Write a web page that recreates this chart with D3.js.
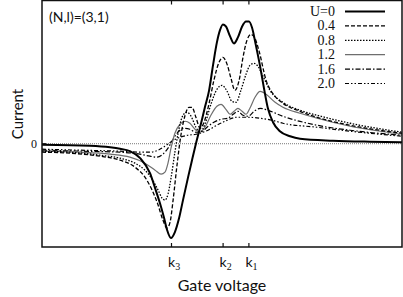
<!DOCTYPE html>
<html>
<head>
<meta charset="utf-8">
<script src="https://cdn.jsdelivr.net/npm/d3@7"></script>
<style>
  body { margin: 0; background: #fff; }
  svg { display: block; }
</style>
</head>
<body>
<svg id="chart" width="403" height="297"></svg>
<script>
// gate voltage (arb. units) and current (arb. units)
const uLabels = ["U=0", "0.4", "0.8", "1.2", "1.6", "2.0"];

const gateU00 = [0, 1.6, 2.27, 2.6, 2.93, 3.27, 3.6, 3.77, 3.93, 4.07, 4.17, 4.3, 4.43, 4.57, 4.7, 4.87, 5.0, 5.13, 5.27, 5.43, 5.57, 5.7, 5.83, 5.93, 6.03, 6.13, 6.27, 6.4, 6.53, 6.67, 6.8, 6.9, 7.0, 7.13, 7.27, 7.4, 7.53, 7.7, 7.93, 8.27, 8.6, 9.7, 10.93, 12];
const currU00 = [-0.01, -0.02, -0.035, -0.05, -0.075, -0.145, -0.295, -0.445, -0.595, -0.745, -0.865, -0.945, -0.885, -0.745, -0.565, -0.335, -0.165, 0, 0.165, 0.365, 0.535, 0.785, 1.015, 1.135, 1.195, 1.175, 1.075, 1.005, 1.065, 1.175, 1.225, 1.225, 1.165, 0.985, 0.775, 0.555, 0.355, 0.215, 0.125, 0.075, 0.05, 0.03, 0.02, 0.015];

const gateU04 = [0, 0.93, 1.93, 2.6, 3.1, 3.43, 3.67, 3.87, 4.03, 4.17, 4.27, 4.37, 4.5, 4.63, 4.77, 4.9, 5.0, 5.13, 5.27, 5.4, 5.57, 5.73, 5.9, 6.03, 6.17, 6.3, 6.43, 6.57, 6.7, 6.83, 6.97, 7.1, 7.23, 7.47, 7.77, 8.03, 8.6, 9.17, 10.27, 12];
const currU04 = [-0.085, -0.095, -0.125, -0.165, -0.235, -0.335, -0.465, -0.615, -0.765, -0.845, -0.785, -0.565, -0.215, 0.085, 0.285, 0.365, 0.365, 0.265, 0.155, 0.215, 0.405, 0.635, 0.815, 0.865, 0.795, 0.655, 0.535, 0.635, 0.865, 1.035, 1.095, 1.055, 0.935, 0.635, 0.475, 0.405, 0.325, 0.265, 0.185, 0.105];

const gateU08 = [0, 0.93, 1.93, 2.6, 3.1, 3.43, 3.67, 3.87, 4.0, 4.1, 4.2, 4.3, 4.43, 4.57, 4.7, 4.83, 4.97, 5.13, 5.27, 5.43, 5.63, 5.83, 6.0, 6.17, 6.33, 6.47, 6.63, 6.8, 6.93, 7.07, 7.2, 7.37, 7.6, 8.03, 8.6, 9.17, 10.27, 12];
const currU08 = [-0.075, -0.085, -0.115, -0.145, -0.195, -0.265, -0.355, -0.465, -0.545, -0.565, -0.505, -0.345, -0.085, 0.155, 0.285, 0.315, 0.275, 0.165, 0.115, 0.195, 0.395, 0.545, 0.585, 0.525, 0.425, 0.415, 0.535, 0.695, 0.785, 0.805, 0.775, 0.675, 0.535, 0.415, 0.335, 0.285, 0.205, 0.115];

const gateU12 = [0, 1.27, 2.27, 2.93, 3.43, 3.77, 3.97, 4.1, 4.2, 4.3, 4.43, 4.6, 4.77, 4.93, 5.1, 5.27, 5.43, 5.63, 5.83, 5.97, 6.13, 6.27, 6.4, 6.53, 6.67, 6.8, 6.93, 7.1, 7.27, 7.47, 7.77, 8.03, 8.6, 9.17, 10.27, 12];
const currU12 = [-0.075, -0.085, -0.105, -0.135, -0.195, -0.265, -0.305, -0.285, -0.195, -0.045, 0.105, 0.195, 0.225, 0.205, 0.145, 0.115, 0.165, 0.285, 0.375, 0.395, 0.345, 0.295, 0.325, 0.355, 0.325, 0.295, 0.355, 0.465, 0.525, 0.495, 0.415, 0.365, 0.305, 0.255, 0.175, 0.095];

const gateU16 = [0, 1.27, 2.6, 3.27, 3.6, 3.83, 4.03, 4.2, 4.37, 4.53, 4.73, 4.93, 5.13, 5.3, 5.5, 5.73, 5.97, 6.2, 6.37, 6.53, 6.7, 6.87, 7.07, 7.27, 7.53, 8.03, 9.17, 10.27, 12];
const currU16 = [-0.065, -0.075, -0.085, -0.105, -0.125, -0.135, -0.105, -0.045, 0.045, 0.115, 0.155, 0.145, 0.115, 0.115, 0.165, 0.215, 0.245, 0.255, 0.295, 0.325, 0.285, 0.275, 0.325, 0.355, 0.335, 0.275, 0.185, 0.135, 0.085];

const gateU20 = [0, 1.27, 2.6, 3.27, 3.6, 3.87, 4.1, 4.33, 4.6, 4.87, 5.13, 5.37, 5.6, 5.83, 6.1, 6.5, 6.87, 7.27, 7.67, 8.03, 9.17, 10.27, 12];
const currU20 = [-0.055, -0.065, -0.075, -0.085, -0.085, -0.065, -0.025, 0.025, 0.065, 0.085, 0.095, 0.115, 0.145, 0.185, 0.225, 0.265, 0.265, 0.255, 0.235, 0.205, 0.165, 0.125, 0.075];

// resonance positions on the gate-voltage axis
const tickNames = ["3", "2", "1"];
const tickGates = [4.3, 6.02, 6.88];

const series = [
  { label: uLabels[0], gate: gateU00, curr: currU00, color: "#000", width: 2, dash: null },
  { label: uLabels[1], gate: gateU04, curr: currU04, color: "#000", width: 1.3, dash: "4,2" },
  { label: uLabels[2], gate: gateU08, curr: currU08, color: "#000", width: 1.3, dash: "1.5,1.5" },
  { label: uLabels[3], gate: gateU12, curr: currU12, color: "#6e6e6e", width: 1.2, dash: null },
  { label: uLabels[4], gate: gateU16, curr: currU16, color: "#000", width: 1.2, dash: "5,2,1.5,2" },
  { label: uLabels[5], gate: gateU20, curr: currU20, color: "#000", width: 1.2, dash: "4,2,1.5,2,1.5,2" },
];

const svg = d3.select("#chart");
const plotLeft = 42, plotRight = 402, plotTop = 0.5, plotBottom = 247;

const x = d3.scaleLinear().domain([0, 12]).range([plotLeft, plotRight]);
const y = d3.scaleLinear().domain([-1.035, 1.435]).range([plotBottom, plotTop]);

// zero line
svg.append("line")
  .attr("x1", plotLeft).attr("x2", plotRight)
  .attr("y1", y(0)).attr("y2", y(0))
  .attr("stroke", "#555")
  .attr("stroke-width", 0.8)
  .attr("stroke-dasharray", "1,1");

// curves
const line = d3.line()
  .x(d => x(d[0]))
  .y(d => y(d[1]))
  .curve(d3.curveMonotoneX);

series.slice().reverse().forEach(s => {
  svg.append("path")
    .datum(d3.zip(s.gate, s.curr))
    .attr("d", line)
    .attr("fill", "none")
    .attr("stroke", s.color)
    .attr("stroke-width", s.width)
    .attr("stroke-dasharray", s.dash);
});

// frame
svg.append("rect")
  .attr("x", plotLeft).attr("y", plotTop)
  .attr("width", plotRight - plotLeft).attr("height", plotBottom - plotTop)
  .attr("fill", "none")
  .attr("stroke", "#111")
  .attr("stroke-width", 1.5);

// bottom and top ticks, labels k_n
const axisB = d3.axisBottom(x).tickValues(tickGates).tickSize(-4).tickFormat("");
const axisT = d3.axisTop(x).tickValues(tickGates).tickSize(-4).tickFormat("");
svg.append("g").attr("transform", `translate(0,${plotBottom})`).call(axisB)
  .call(g => g.select(".domain").remove())
  .selectAll("line").attr("stroke", "#111").attr("stroke-width", 1.2);
svg.append("g").attr("transform", `translate(0,${plotTop})`).call(axisT)
  .call(g => g.select(".domain").remove())
  .selectAll("line").attr("stroke", "#111").attr("stroke-width", 1.2);

tickGates.forEach((g, i) => {
  const t = svg.append("text")
    .attr("x", x(g) - 3)
    .attr("y", 267)
    .style("font-family", "Lato, 'Open Sans', sans-serif")
    .style("font-size", "14px")
    .attr("fill", "#111");
  t.append("tspan").text("k");
  t.append("tspan")
    .attr("dy", 3)
    .style("font-family", "'Liberation Serif', serif")
    .style("font-size", "10px")
    .text(tickNames[i]);
});

// zero label and tick
svg.append("line")
  .attr("x1", plotLeft).attr("x2", plotLeft + 4)
  .attr("y1", y(0)).attr("y2", y(0))
  .attr("stroke", "#111").attr("stroke-width", 1.2);
svg.append("text")
  .attr("x", 37).attr("y", y(0) + 4)
  .attr("text-anchor", "end")
  .style("font-family", "'Liberation Serif', serif")
  .style("font-size", "12px")
  .style("fill", "#111")
  .text("0");

// axis titles
svg.append("text")
  .attr("x", 222).attr("y", 291)
  .attr("text-anchor", "middle")
  .style("font-family", "Lato, 'Open Sans', sans-serif")
  .style("font-size", "16px")
  .attr("fill", "#111")
  .text("Gate voltage");

svg.append("text")
  .attr("transform", "translate(23,114) rotate(-90)")
  .attr("text-anchor", "middle")
  .style("font-family", "Lato, 'Open Sans', sans-serif")
  .style("font-size", "15px")
  .attr("fill", "#111")
  .text("Current");

svg.append("text")
  .attr("x", 49).attr("y", 22)
  .style("font-family", "Lato, 'Open Sans', sans-serif")
  .style("font-size", "14px")
  .attr("fill", "#111")
  .text("(N,l)=(3,1)");

// legend
const legend = svg.append("g");
series.forEach((s, i) => {
  const ly = 11.5 + i * 14.4;
  legend.append("text")
    .attr("x", 335).attr("y", ly + 4.5)
    .attr("text-anchor", "end")
    .style("font-family", "'Liberation Serif', serif")
    .style("font-size", "14px")
    .attr("fill", "#111")
    .text(s.label);
  legend.append("line")
    .attr("x1", 345).attr("x2", 385)
    .attr("y1", ly).attr("y2", ly)
    .attr("stroke", s.color)
    .attr("stroke-width", s.width)
    .attr("stroke-dasharray", s.dash);
});
</script>
</body>
</html>
